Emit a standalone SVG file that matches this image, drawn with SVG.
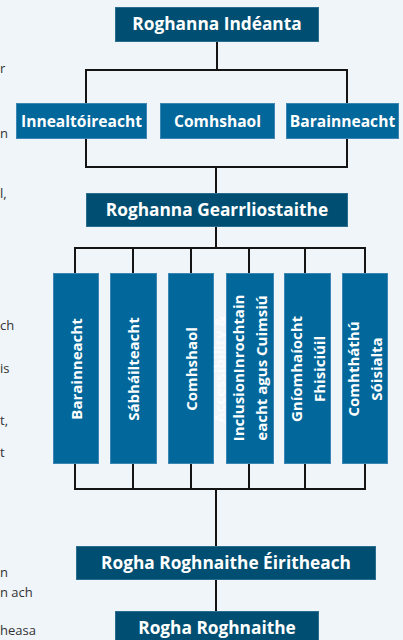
<svg xmlns="http://www.w3.org/2000/svg" width="403" height="640" viewBox="0 0 403 640">
<style>
.bg{fill:#f0f5fa}
.dark{fill:#004f72;stroke:#2a6d8f;stroke-width:1}
.mid{fill:#02679b;stroke:#3b86b3;stroke-width:1}
.h{font-family:"Open Sans","Liberation Sans",sans-serif;font-weight:bold;font-size:17.3px;fill:#fff;text-anchor:middle}
.m{font-family:"Open Sans","Liberation Sans",sans-serif;font-weight:bold;font-size:15.6px;fill:#fff;text-anchor:middle}
.v{font-family:"Open Sans","Liberation Sans",sans-serif;font-weight:bold;font-size:15px;fill:#fff;text-anchor:middle}
.frag{font-family:"Open Sans","Liberation Sans",sans-serif;font-size:13px;fill:#333}
.ln{stroke:#141414;stroke-width:2;fill:none;stroke-linecap:square}
</style>
<rect class="bg" x="0" y="0" width="403" height="640"/>
<g id="page-fragments">
<text class="frag" x="0" y="73">r</text>
<text class="frag" x="0" y="138">n</text>
<text class="frag" x="0" y="198">l,</text>
<text class="frag" x="0" y="330">ch</text>
<text class="frag" x="0" y="373">is</text>
<text class="frag" x="0" y="425">t,</text>
<text class="frag" x="0" y="457">t</text>
<text class="frag" x="0" y="577">n</text>
<text class="frag" x="0" y="597">n ach</text>
<text class="frag" x="0" y="635">heasa</text>
</g>
<g id="connectors">
<path class="ln" d="M217 41 V70 M86 70 H347 M86 70 V167 M347 70 V167 M86 167 H347 M216 167 V193"/>
<path class="ln" d="M216 226 V248 M75 248 H365 M75 248 V273 M133 248 V273 M191 248 V273 M249 248 V273 M305 248 V273 M365 248 V273"/>
<path class="ln" d="M75 463 V489 M133 463 V489 M191 463 V489 M249 463 V489 M305 463 V489 M365 463 V489 M75 489 H365 M216 489 V546"/>
<path class="ln" d="M216 579 V611"/>
</g>
<g id="n-roghanna-indeanta">
<rect class="dark" x="115.5" y="7.5" width="203" height="34"/>
<text class="h" x="217" y="30">Roghanna Indéanta</text>
</g>
<g id="n-innealtoireacht">
<rect class="mid" x="16.5" y="103.5" width="130" height="35"/>
<text class="m" x="81.5" y="126.5">Innealtóireacht</text>
</g>
<g id="n-comhshaol-1">
<rect class="mid" x="160.5" y="103.5" width="114" height="35"/>
<text class="m" x="217.5" y="126.5">Comhshaol</text>
</g>
<g id="n-barainneacht-1">
<rect class="mid" x="286.5" y="103.5" width="112" height="35"/>
<text class="m" x="342.5" y="126.5">Barainneacht</text>
</g>
<g id="n-gearrliostaithe">
<rect class="dark" x="86.5" y="193.5" width="261" height="33"/>
<text class="h" x="217" y="216">Roghanna Gearrliostaithe</text>
</g>
<g id="n-col-barainneacht">
<rect class="mid" x="53.5" y="273.5" width="45" height="190"/>
<text class="v" transform="translate(76 369) rotate(-90)" y="5.5">Barainneacht</text>
</g>
<g id="n-col-sabhailteacht">
<rect class="mid" x="110.5" y="273.5" width="46" height="190"/>
<text class="v" transform="translate(133.5 369) rotate(-90)" y="5.5">Sábháilteacht</text>
</g>
<g id="n-col-comhshaol">
<rect class="mid" x="168.5" y="273.5" width="45" height="190"/>
<text class="v" transform="translate(191 369) rotate(-90)" y="5.5">Comhshaol</text>
</g>
<text class="v" transform="translate(219.5 369) rotate(-90)" y="5" style="fill:#ffffff;opacity:0.6">Accessibility &amp;</text>
<g id="n-col-inrochtaineacht">
<rect class="mid" x="226.5" y="273.5" width="47" height="190"/>
<text class="v" transform="translate(250 368) rotate(-90)"><tspan x="0" y="-6">InclusionInrochtain</tspan><tspan x="0" y="17">eacht agus Cuimsiú</tspan></text>
</g>
<g id="n-col-gniomhaiocht">
<rect class="mid" x="284.5" y="273.5" width="46" height="190"/>
<text class="v" transform="translate(307.5 369) rotate(-90)"><tspan x="0" y="-6">Gníomhaíocht</tspan><tspan x="0" y="17">Fhisiciúil</tspan></text>
</g>
<g id="n-col-comhthathu">
<rect class="mid" x="342.5" y="273.5" width="45" height="190"/>
<text class="v" transform="translate(365 369) rotate(-90)"><tspan x="0" y="-6">Comhtháthú</tspan><tspan x="0" y="17">Sóisialta</tspan></text>
</g>
<g id="n-eiritheach">
<rect class="dark" x="76.5" y="546.5" width="299" height="33"/>
<text class="h" x="226" y="569">Rogha Roghnaithe Éiritheach</text>
</g>
<g id="n-roghnaithe">
<rect class="dark" x="115.5" y="611.5" width="203" height="40"/>
<text class="h" x="217" y="634">Rogha Roghnaithe</text>
</g>
</svg>
